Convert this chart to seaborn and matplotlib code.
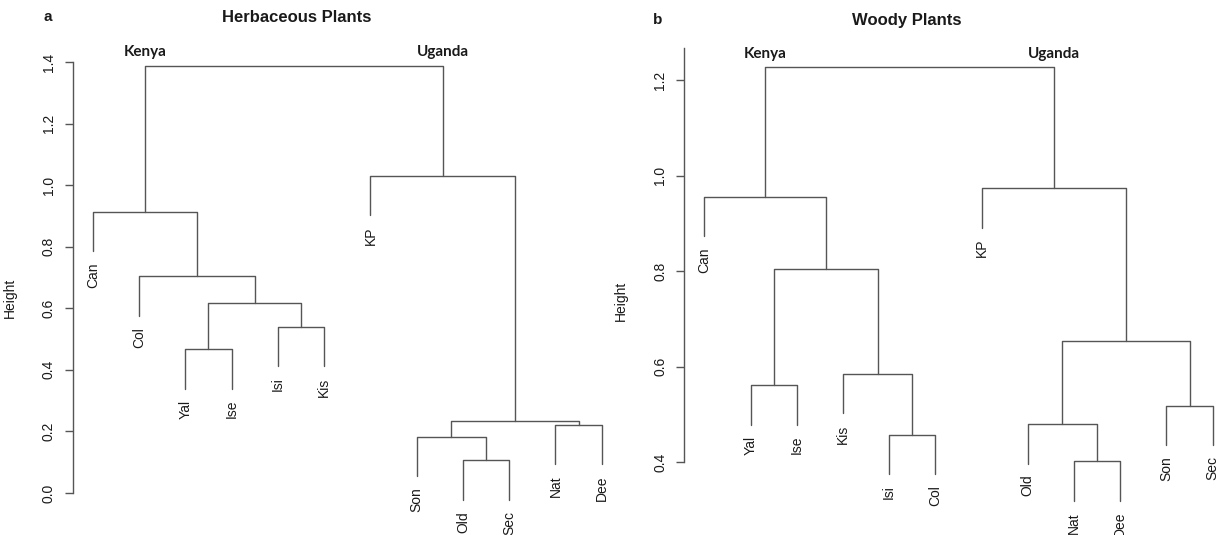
import matplotlib
matplotlib.use("Agg")
import matplotlib.pyplot as plt
import numpy as np
import pandas as pd
import seaborn as sns

# ---- Herbaceous plants: leaf order and agglomeration steps (R-style merge table) ----
herb_leaves = ["Can", "Col", "Yal", "Ise", "Isi", "Kis", "KP", "Son", "Old", "Sec", "Nat", "Dee"]
herb_merge_a = ["Old", "Son", "Nat", 2, "Yal", "Isi", 5, "Col", "Can", "KP", 9]
herb_merge_b = ["Sec", 1, "Dee", 3, "Ise", "Kis", 6, 7, 8, 4, 10]
herb_height = [0.106, 0.183, 0.221, 0.233, 0.467, 0.540, 0.616, 0.704, 0.914, 1.030, 1.388]
herb_ticks = [0.0, 0.2, 0.4, 0.6, 0.8, 1.0, 1.2, 1.4]

# ---- Woody plants ----
wood_leaves = ["Can", "Yal", "Ise", "Kis", "Isi", "Col", "KP", "Old", "Nat", "Dee", "Son", "Sec"]
wood_merge_a = ["Nat", "Isi", "Old", "Son", "Yal", "Kis", 3, 5, "Can", "KP", 9]
wood_merge_b = ["Dee", "Col", 1, "Sec", "Ise", 2, 4, 6, 8, 7, 10]
wood_height = [0.402, 0.458, 0.480, 0.519, 0.561, 0.585, 0.655, 0.805, 0.956, 0.974, 1.227]
wood_ticks = [0.4, 0.6, 0.8, 1.0, 1.2]

group_labels = ["Kenya", "Uganda"]

W, H = 1218, 535
sns.set_theme(style="ticks")
plt.rcParams["font.family"] = ["Liberation Sans", "DejaVu Sans"]

fig = plt.figure(figsize=(W / 100, H / 100), dpi=100)
LINE = "#555555"
TXT = "#1a1a1a"


def layout(leaves, merge_a, merge_b, height):
    """Segment table and leaf tips for an hclust-style dendrogram."""
    pos = {name: i + 1 for i, name in enumerate(leaves)}
    hang = 0.1 * (max(height) - min(height))
    node_x = {}
    rows, tips = [], []

    def child(c, h):
        if isinstance(c, str):
            tips.append((c, pos[c], h - hang))
            return pos[c], h - hang
        return node_x[c], height[c - 1]

    for k, (a, b, h) in enumerate(zip(merge_a, merge_b, height), start=1):
        xa, ya = child(a, h)
        xb, yb = child(b, h)
        node_x[k] = (xa + xb) / 2
        rows += [(k, xa, ya), (k, xa, h), (k, xb, h), (k, xb, yb)]
    seg = pd.DataFrame(rows, columns=["node", "x", "y"])
    n = len(height)
    root_children = [child_x for child_x in (
        pos[merge_a[-1]] if isinstance(merge_a[-1], str) else node_x[merge_a[-1]],
        pos[merge_b[-1]] if isinstance(merge_b[-1], str) else node_x[merge_b[-1]])]
    return seg, tips, root_children, height[n - 1]


def panel(rect, leaves, merge_a, merge_b, height, ticks, ylim, spine_top,
          letter, title, title_x, title_y, letter_x, ylab_pos):
    x0, y0, x1, y1 = rect
    ax = fig.add_axes([x0 / W, 1 - y1 / H, (x1 - x0) / W, (y1 - y0) / H])
    seg, tips, root_xs, root_h = layout(leaves, merge_a, merge_b, height)
    sns.lineplot(data=seg, x="x", y="y", units="node", estimator=None, sort=False,
                 color=LINE, linewidth=1.0, ax=ax, legend=False)
    n = len(leaves)
    ax.set_xlim(1 - 0.04 * (n - 1), n + 0.04 * (n - 1))
    ax.set_ylim(*ylim)
    sns.despine(ax=ax, bottom=True)
    ax.spines["left"].set_bounds(ticks[0], spine_top)
    ax.spines["left"].set_color(LINE)
    ax.spines["left"].set_linewidth(1.0)
    ax.set_xticks([])
    ax.set_xlabel("")
    ax.set_yticks(ticks)
    ax.set_yticklabels([f"{t:.1f}" for t in ticks], rotation=90, va="center",
                       fontsize=10, color=TXT)
    ax.tick_params(axis="y", length=6, width=1.0, color=LINE, pad=6)
    ax.set_ylabel("Height", fontsize=10, color=TXT)
    ax.yaxis.set_label_coords((ylab_pos[0] - x0) / (x1 - x0), (y1 - ylab_pos[1]) / (y1 - y0))
    for name, lx, ly in tips:
        ax.annotate(name, (lx, ly), xytext=(0, -8), textcoords="offset points",
                    rotation=90, ha="center", va="top", fontsize=10, color=TXT)
    for lab, gx in zip(group_labels, root_xs):
        ax.annotate(lab, (gx, root_h), xytext=(0, 7), textcoords="offset points",
                    ha="center", va="baseline", fontsize=11, fontweight="bold",
                    family=["Lato", "DejaVu Sans"], color=TXT)
    fig.text(title_x / W, 1 - title_y / H, title, ha="center", va="center",
             fontsize=12, fontweight="bold", color=TXT)
    fig.text(letter_x / W, 1 - title_y / H, letter, ha="center", va="center",
             fontsize=11, fontweight="bold", color=TXT)
    return ax


panel((72.5, 48, 622, 517), herb_leaves, herb_merge_a, herb_merge_b, herb_height,
      herb_ticks, (-0.078, 1.4455), 1.4, "a", "Herbaceous Plants", 296.7, 17, 47.7, (17, 298))
panel((684, 48, 1233, 517), wood_leaves, wood_merge_a, wood_merge_b, wood_height,
      wood_ticks, (0.2856, 1.2675), 1.2675, "b", "Woody Plants", 907, 20, 658, (628, 301))

fig.savefig("out.png", dpi=100, facecolor="white")
